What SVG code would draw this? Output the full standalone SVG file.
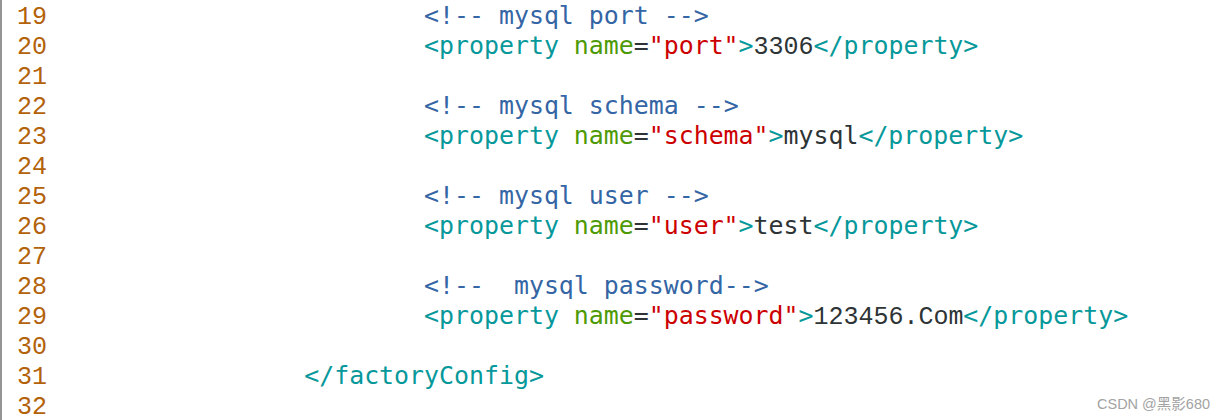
<svg xmlns="http://www.w3.org/2000/svg" width="1224" height="420" viewBox="0 0 1224 420">
<style>
text{font-family:"DejaVu Sans Mono","Liberation Mono",monospace;font-size:24.9px;white-space:pre}
.ln{fill:#b3620a;font-family:"Liberation Mono","DejaVu Sans Mono",monospace;font-size:25px}
.c{fill:#3465a4}
.t{fill:#06989a}
.a{fill:#4e9a06}
.s{fill:#cc0000}
.p{fill:#2e3436}
.d{fill:#2e3436;font-family:"Liberation Mono","DejaVu Sans Mono",monospace;font-size:25px}
.wm{font-family:"Liberation Sans","Noto Sans CJK SC",sans-serif;font-size:14.5px;fill:#a3a3a3}
</style>
<rect x="0" y="0" width="1224" height="420" fill="#ffffff"/>
<line x1="1" y1="0" x2="1" y2="420" stroke="#7a7a7a" stroke-width="1.6"/>
<g id="linenumbers">
<text class="ln" x="17" y="24">19</text>
<text class="ln" x="17" y="54">20</text>
<text class="ln" x="17" y="84">21</text>
<text class="ln" x="17" y="114">22</text>
<text class="ln" x="17" y="144">23</text>
<text class="ln" x="17" y="174">24</text>
<text class="ln" x="17" y="204">25</text>
<text class="ln" x="17" y="234">26</text>
<text class="ln" x="17" y="264">27</text>
<text class="ln" x="17" y="294">28</text>
<text class="ln" x="17" y="324">29</text>
<text class="ln" x="17" y="354">30</text>
<text class="ln" x="17" y="384">31</text>
<text class="ln" x="17" y="414">32</text>
</g>
<g id="code">
<text class="c" x="424" y="24">&lt;!-- mysql port --&gt;</text>
<text y="54"><tspan class="t" x="424">&lt;property</tspan><tspan class="a" x="573.8">name</tspan><tspan class="p" x="633.7">=</tspan><tspan class="s" x="648.7">"port"</tspan><tspan class="t" x="738.6">&gt;</tspan><tspan class="d" x="753.6">3306</tspan><tspan class="t" x="813.5">&lt;/property&gt;</tspan></text>
<text class="c" x="424" y="114">&lt;!-- mysql schema --&gt;</text>
<text y="144"><tspan class="t" x="424">&lt;property</tspan><tspan class="a" x="573.8">name</tspan><tspan class="p" x="633.7">=</tspan><tspan class="s" x="648.7">"schema"</tspan><tspan class="t" x="768.5">&gt;</tspan><tspan class="p" x="783.5">mysql</tspan><tspan class="t" x="858.4">&lt;/property&gt;</tspan></text>
<text class="c" x="424" y="204">&lt;!-- mysql user --&gt;</text>
<text y="234"><tspan class="t" x="424">&lt;property</tspan><tspan class="a" x="573.8">name</tspan><tspan class="p" x="633.7">=</tspan><tspan class="s" x="648.7">"user"</tspan><tspan class="t" x="738.6">&gt;</tspan><tspan class="p" x="753.6">test</tspan><tspan class="t" x="813.5">&lt;/property&gt;</tspan></text>
<text class="c" x="424" y="294">&lt;!--  mysql password--&gt;</text>
<text y="324"><tspan class="t" x="424">&lt;property</tspan><tspan class="a" x="573.8">name</tspan><tspan class="p" x="633.7">=</tspan><tspan class="s" x="648.7">"password"</tspan><tspan class="t" x="798.5">&gt;</tspan><tspan class="d" x="813.5">123456.Com</tspan><tspan class="t" x="963.3">&lt;/property&gt;</tspan></text>
<text class="t" x="304.2" y="384">&lt;/factoryConfig&gt;</text>
</g>
<text class="wm" x="1097" y="409">CSDN @黑影680</text>
</svg>
